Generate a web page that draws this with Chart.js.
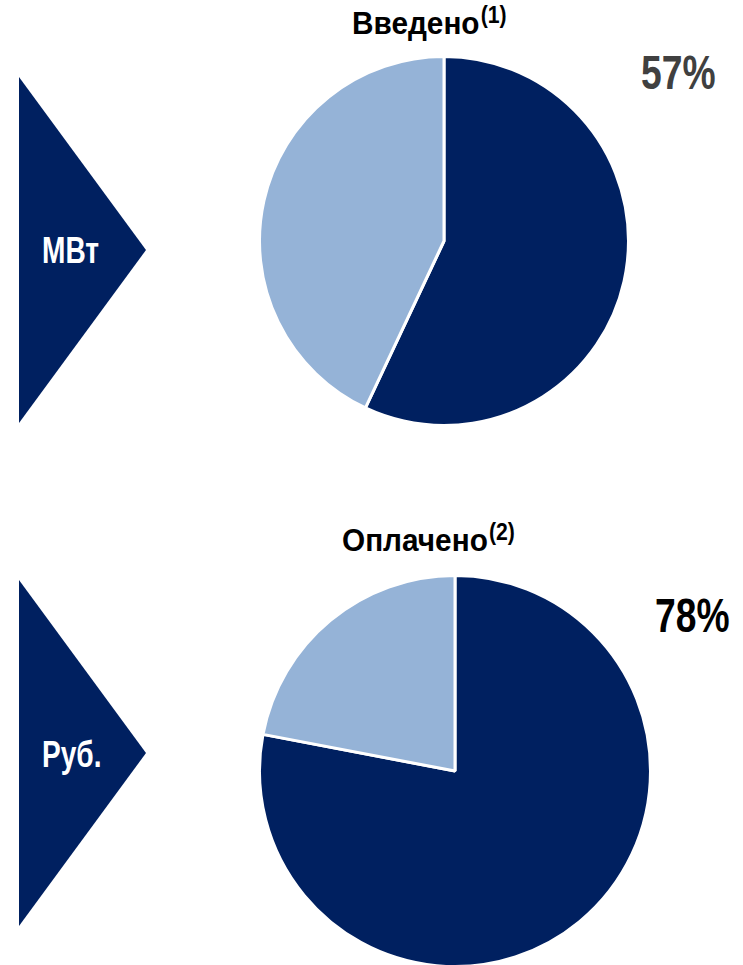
<!DOCTYPE html>
<html>
<head>
<meta charset="utf-8">
<script src="https://cdn.jsdelivr.net/npm/chart.js@4.4.1/dist/chart.umd.min.js"></script>
<style>
  html, body { margin:0; padding:0; width:743px; height:965px; overflow:hidden; background:#fff; }
  .abs { position:absolute; }
  .tri { background:#002060; clip-path: polygon(0 0, 100% 50%, 0 100%); }
  .unit { color:#fff; font-family:"Liberation Sans", Arial, sans-serif; font-weight:bold; font-size:36px; line-height:1; white-space:nowrap; transform:scaleX(0.78); transform-origin:0 0; }
  .title { font-family:"Liberation Sans", Arial, sans-serif; font-weight:bold; font-size:31px; line-height:1; color:#000; white-space:nowrap; transform:scaleX(0.96); transform-origin:0 0; }
  .title span { display:inline-block; font-size:24px; position:relative; top:-11px; transform:scaleX(0.92); transform-origin:0 0; margin-left:1px; }
  .pct { font-family:"Liberation Sans", Arial, sans-serif; font-weight:bold; font-size:49px; line-height:1; white-space:nowrap; transform:scaleX(0.76); transform-origin:0 0; }
</style>
</head>
<body>
<div class="abs tri" style="left:19px; top:77px; width:127px; height:346px;"></div>
<div class="abs tri" style="left:19px; top:580px; width:127px; height:346px;"></div>
<div id="unit0" class="abs unit" style="left:42px; top:233px;"></div>
<div id="unit1" class="abs unit" style="left:42px; top:737px;"></div>
<div id="title0" class="abs title" style="left:352px; top:8px;"></div>
<div id="title1" class="abs title" style="left:342px; top:525px;"></div>
<div id="pct0" class="abs pct" style="left:641px; top:48px; color:#404040;"></div>
<div id="pct1" class="abs pct" style="left:655px; top:591px; color:#000;"></div>
<canvas id="pie0" class="abs" style="left:258px; top:55px;"></canvas>
<canvas id="pie1" class="abs" style="left:258px; top:574px;"></canvas>
<script>
const chartTitles = ['Введено', 'Оплачено'];
const titleNotes = ['(1)', '(2)'];
const unitLabels = ['МВт', 'Руб.'];
const categories = ['Выполнено', 'Остаток'];
const shareDone = [57, 78];
const shareRemaining = [43, 22];
const percentLabels = ['57%', '78%'];

const darkBlue = '#002060';
const lightBlue = '#95B3D7';
const sizes = [372, 394];

for (let i = 0; i < 2; i++) {
  document.getElementById('unit' + i).textContent = unitLabels[i];
  const t = document.getElementById('title' + i);
  t.textContent = chartTitles[i];
  const s = document.createElement('span');
  s.textContent = titleNotes[i];
  t.appendChild(s);
  document.getElementById('pct' + i).textContent = percentLabels[i];

  const cv = document.getElementById('pie' + i);
  cv.width = sizes[i]; cv.height = sizes[i];
  cv.style.width = sizes[i] + 'px'; cv.style.height = sizes[i] + 'px';
  new Chart(cv, {
    type: 'pie',
    data: {
      labels: categories,
      datasets: [{
        data: [shareDone[i], shareRemaining[i]],
        backgroundColor: [darkBlue, lightBlue],
        borderColor: '#ffffff',
        borderWidth: 3
      }]
    },
    options: {
      responsive: false,
      animation: false,
      devicePixelRatio: 1,
      layout: { padding: 0 },
      plugins: { legend: { display: false }, tooltip: { enabled: false } }
    }
  });
}
</script>
</body>
</html>
